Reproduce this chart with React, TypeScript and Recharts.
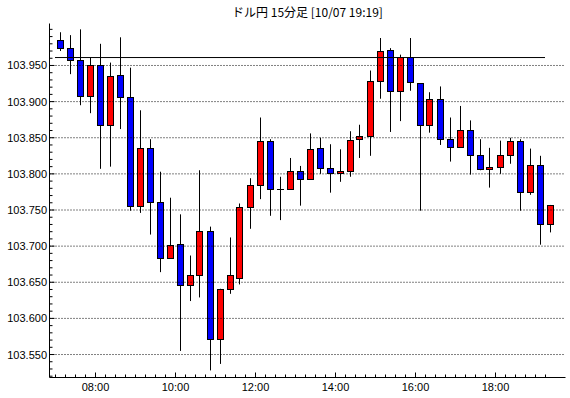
import { Bar, ComposedChart, ReferenceLine, XAxis, YAxis } from "recharts";

// USD/JPY 15-minute candles, 07:00 - 19:15
const times = [
  "07:00", "07:15", "07:30", "07:45", "08:00", "08:15", "08:30", "08:45", "09:00", "09:15",
  "09:30", "09:45", "10:00", "10:15", "10:30", "10:45", "11:00", "11:15", "11:30", "11:45",
  "12:00", "12:15", "12:30", "12:45", "13:00", "13:15", "13:30", "13:45", "14:00", "14:15",
  "14:30", "14:45", "15:00", "15:15", "15:30", "15:45", "16:00", "16:15", "16:30", "16:45",
  "17:00", "17:15", "17:30", "17:45", "18:00", "18:15", "18:30", "18:45", "19:00", "19:15",
];

const opens = [
  103.984, 103.974, 103.957, 103.907, 103.95, 103.867, 103.936, 103.906, 103.755, 103.835,
  103.76, 103.683, 103.702, 103.645, 103.659, 103.72, 103.571, 103.64, 103.655, 103.753,
  103.784, 103.845, 103.778, 103.778, 103.803, 103.792, 103.835, 103.807, 103.8, 103.803,
  103.848, 103.852, 103.928, 103.971, 103.914, 103.961, 103.925, 103.867, 103.903, 103.848,
  103.836, 103.86, 103.825, 103.806, 103.809, 103.825, 103.845, 103.774, 103.811, 103.73,
];
const highs = [
  103.996, 103.992, 104.0, 103.961, 103.98, 103.954, 103.989, 103.947, 103.888, 103.848,
  103.803, 103.767, 103.744, 103.687, 103.805, 103.727, 103.641, 103.712, 103.759, 103.794,
  103.878, 103.848, 103.796, 103.822, 103.811, 103.856, 103.85, 103.841, 103.834, 103.859,
  103.868, 103.943, 103.988, 103.974, 103.965, 103.988, 103.925, 103.913, 103.921, 103.878,
  103.894, 103.874, 103.848, 103.836, 103.846, 103.85, 103.848, 103.835, 103.825, 103.757,
];
const lows = [
  103.97, 103.938, 103.895, 103.884, 103.807, 103.81, 103.862, 103.749, 103.746, 103.716,
  103.664, 103.683, 103.555, 103.624, 103.629, 103.528, 103.537, 103.634, 103.647, 103.724,
  103.765, 103.742, 103.736, 103.778, 103.756, 103.792, 103.8, 103.774, 103.789, 103.796,
  103.822, 103.825, 103.904, 103.858, 103.873, 103.915, 103.749, 103.857, 103.84, 103.817,
  103.836, 103.799, 103.805, 103.781, 103.8, 103.814, 103.749, 103.771, 103.702, 103.719,
];
const closes = [
  103.974, 103.957, 103.907, 103.95, 103.867, 103.935, 103.905, 103.755, 103.835, 103.76,
  103.683, 103.701, 103.645, 103.659, 103.72, 103.571, 103.64, 103.659, 103.753, 103.784,
  103.845, 103.778, 103.778, 103.803, 103.792, 103.834, 103.807, 103.8, 103.803, 103.846,
  103.852, 103.928, 103.969, 103.914, 103.961, 103.926, 103.867, 103.903, 103.848, 103.836,
  103.86, 103.825, 103.806, 103.809, 103.825, 103.845, 103.774, 103.811, 103.73, 103.756,
];

const priceGrid = [103.55, 103.6, 103.65, 103.7, 103.75, 103.8, 103.85, 103.9, 103.95];
const hourLabels = ["08:00", "10:00", "12:00", "14:00", "16:00", "18:00"];
const baseLevel = 103.961;
const title = "ドル円 15分足 [10/07 19:19]";

const rows = times.map((t, i) => ({
  i,
  t,
  open: opens[i],
  high: highs[i],
  low: lows[i],
  close: closes[i],
}));

// tick marks sit on the slot boundaries between candles
const xTicks = times.map((_, i) => i - 0.5);
const majorX = new Map(hourLabels.map((l) => [times.indexOf(l) - 0.5, l]));
const yTicks = Array.from({ length: 49 }, (_, k) => Number((103.52 + k * 0.01).toFixed(2)));
const isMajorY = (v: number) => priceGrid.some((g) => Math.abs(g - v) < 1e-6);

const X_DOMAIN: [number, number] = [-1.1, 50.5];
const Y_DOMAIN: [number, number] = [103.5182, 104.0081];
const FONT = "'Liberation Sans', Arial, sans-serif";

function BottomTick(props: any) {
  const { x, y, payload } = props;
  const label = majorX.get(payload.value);
  return (
    <g>
      <line x1={x} x2={x} y1={y} y2={y - (label ? 5 : 3)} stroke="#000" />
      {label ? (
        <text x={x} y={y + 13.5} textAnchor="middle" fontSize={11} fontFamily={FONT} fill="#000">
          {label}
        </text>
      ) : null}
    </g>
  );
}

function TopTick(props: any) {
  const { x, y, payload } = props;
  const major = majorX.has(payload.value);
  return <line x1={x} x2={x} y1={y} y2={y + (major ? 5 : 3)} stroke="#000" />;
}

function LeftTick(props: any) {
  const { x, y, payload } = props;
  const major = isMajorY(payload.value);
  return (
    <g>
      <line x1={x} x2={x + (major ? 5 : 3)} y1={y} y2={y} stroke="#000" />
      {major ? (
        <text x={x - 2.5} y={y + 4} textAnchor="end" fontSize={11} fontFamily={FONT} fill="#000">
          {payload.value.toFixed(3)}
        </text>
      ) : null}
    </g>
  );
}

function RightTick(props: any) {
  const { x, y, payload } = props;
  const major = isMajorY(payload.value);
  return <line x1={x} x2={x - (major ? 5 : 3)} y1={y} y2={y} stroke="#000" />;
}

function Candle(props: any) {
  const { x, y, width, height } = props;
  const d = props.payload ?? props;
  if (x == null || y == null || !height) return null;
  const cx = Math.floor(x + width / 2) + 0.5;
  const toY = (v: number) => y + ((d.high - v) / (d.high - d.low)) * height;
  const yo = toY(d.open);
  const yc = toY(d.close);
  const top = Math.floor(Math.min(yo, yc)) + 0.5;
  const bottom = Math.floor(Math.max(yo, yc)) + 0.5;
  const fill = d.close > d.open ? "#ff0000" : d.close < d.open ? "#0000ff" : "#000";
  return (
    <g>
      <line x1={cx} x2={cx} y1={y} y2={y + height} stroke="#000" />
      {bottom - top < 1 ? (
        <line x1={cx - 3.5} x2={cx + 3.5} y1={top} y2={top} stroke="#000" />
      ) : (
        <rect x={cx - 3} y={top} width={6} height={bottom - top} fill={fill} stroke="#000" />
      )}
    </g>
  );
}

export default function App() {
  return (
    <div style={{ position: "absolute", left: 0, top: 0, width: 570, height: 398, background: "#fff" }}>
      <div
        style={{
          position: "absolute",
          left: 49,
          top: 5,
          width: 517,
          textAlign: "center",
          fontSize: 12,
          lineHeight: "14px",
          fontFamily: "'Noto Sans CJK JP', sans-serif",
          color: "#000",
        }}
      >
        {title}
      </div>
      <ComposedChart
        width={570}
        height={398}
        data={rows}
        margin={{ top: 23.5, right: 4.5, bottom: 0, left: 0.5 }}
      >
        <XAxis
          xAxisId="b"
          dataKey="i"
          type="number"
          domain={X_DOMAIN}
          allowDataOverflow
          ticks={xTicks}
          interval={0}
          height={20.5}
          tickSize={0}
          tickMargin={0}
          tickLine={false}
          axisLine={{ stroke: "#000" }}
          tick={<BottomTick />}
        />
        <XAxis
          xAxisId="t"
          orientation="top"
          dataKey="i"
          type="number"
          domain={X_DOMAIN}
          allowDataOverflow
          ticks={xTicks}
          interval={0}
          height={0}
          tickSize={0}
          tickMargin={0}
          tickLine={false}
          axisLine={{ stroke: "#000" }}
          tick={<TopTick />}
        />
        <YAxis
          yAxisId="p"
          type="number"
          domain={Y_DOMAIN}
          allowDataOverflow
          ticks={yTicks}
          interval={0}
          width={49}
          tickSize={0}
          tickMargin={0}
          tickLine={false}
          axisLine={{ stroke: "#000" }}
          tick={<LeftTick />}
        />
        <YAxis
          yAxisId="r"
          orientation="right"
          type="number"
          domain={Y_DOMAIN}
          allowDataOverflow
          ticks={yTicks}
          interval={0}
          width={0}
          tickSize={0}
          tickMargin={0}
          tickLine={false}
          axisLine={{ stroke: "#000" }}
          tick={<RightTick />}
        />
        {priceGrid.map((v) => (
          <ReferenceLine key={v} xAxisId="b" yAxisId="p" y={v} stroke="#000" strokeDasharray="1 2" />
        ))}
        <ReferenceLine
          xAxisId="b"
          yAxisId="p"
          segment={[
            { x: -0.55, y: baseLevel },
            { x: 48.45, y: baseLevel },
          ]}
          stroke="#000"
        />
        <Bar
          xAxisId="b"
          yAxisId="p"
          dataKey={(d: any) => [d.low, d.high]}
          barSize={10}
          shape={<Candle />}
          isAnimationActive={false}
        />
      </ComposedChart>
    </div>
  );
}
